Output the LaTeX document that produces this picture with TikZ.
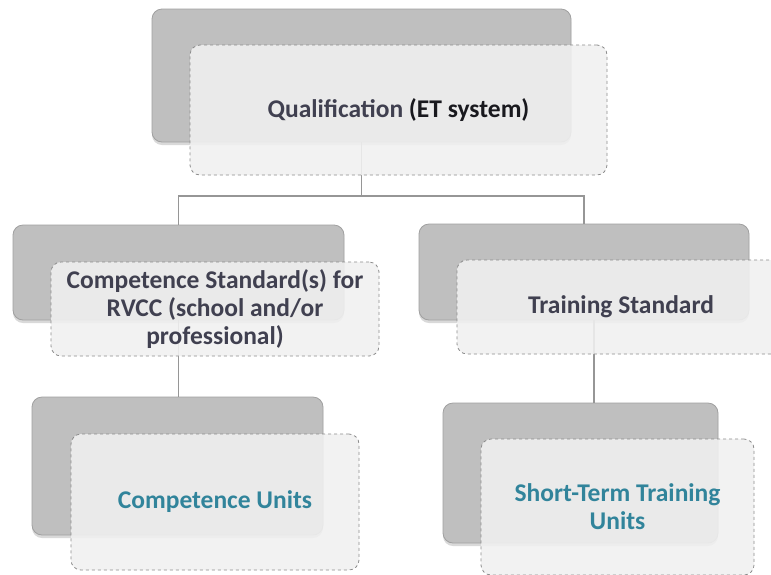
\documentclass[tikz,border=0pt]{standalone}
\usepackage{fontspec}
\setmainfont{Carlito}
\usetikzlibrary{positioning,shadows}
\definecolor{backgray}{RGB}{191,191,191}
\definecolor{backedge}{RGB}{160,160,160}
\definecolor{frontfill}{RGB}{240,240,240}
\definecolor{frontedge}{RGB}{140,140,140}
\definecolor{linkgray}{RGB}{150,150,150}
\definecolor{textdark}{RGB}{64,64,80}
\definecolor{textblack}{RGB}{25,25,30}
\definecolor{teal}{RGB}{49,132,155}
\begin{document}
\begin{tikzpicture}[x=1pt, y=-1pt,
    backbox/.style={draw=backedge, fill=backgray, line width=0.8pt, rounded corners=10pt,
      drop shadow={shadow xshift=0pt, shadow yshift=-3pt, opacity=0.3}},
    frontbox/.style={draw=frontedge, dashed, line width=0.8pt, rounded corners=10pt,
      fill=frontfill, fill opacity=0.89, text opacity=1, text=textdark, align=center,
      font=\fontsize{25.5}{28}\selectfont\bfseries},
    link/.style={draw=linkgray, line width=1.2pt}]
  \useasboundingbox (0,0) rectangle (771,574);

  \node [backbox, minimum width=419pt, minimum height=133pt] (qualback) at (361.5,75.5) {};
  \node [backbox, minimum width=331pt, minimum height=95pt] (compback) at (178.5,272.5) {};
  \node [backbox, minimum width=330pt, minimum height=96pt] (trainback) at (584,272) {};
  \node [backbox, minimum width=291pt, minimum height=138pt] (unitsback) at (177.5,466) {};
  \node [backbox, minimum width=275pt, minimum height=140pt] (stuback) at (580.5,473) {};

  \coordinate (fork) at (361.5,196);
  \draw [link] (qualback.south) -- (fork);
  \draw [link] (fork) -| (compback.north);
  \draw [link] (fork) -| (trainback.north);
  \draw [link] (compback.south) -- (compback.south |- unitsback.north);
  \draw [link] ([xshift=10pt]trainback.south) -- ([xshift=10pt]trainback.south |- stuback.north);

  \node [frontbox, minimum width=417pt, minimum height=130pt] (qual) at ([shift={(37,34.5)}]qualback.center)
    {Qualification {\color{textblack}(ET system)}};
  \node [frontbox, minimum width=328pt, minimum height=94pt] (comp) at ([shift={(36.5,36.5)}]compback.center)
    {Competence Standard(s) for\\RVCC (school and/or\\professional)};
  \node [frontbox, minimum width=328pt, minimum height=94pt] (train) at ([shift={(37,35)}]trainback.center)
    {Training Standard};
  \node [frontbox, minimum width=288pt, minimum height=136pt, text=teal] (units) at ([shift={(37.5,36)}]unitsback.center)
    {Competence Units};
  \node [frontbox, minimum width=273pt, minimum height=136pt, text=teal] (stu) at ([shift={(37,34)}]stuback.center)
    {Short-Term Training\\Units};
\end{tikzpicture}
\end{document}
